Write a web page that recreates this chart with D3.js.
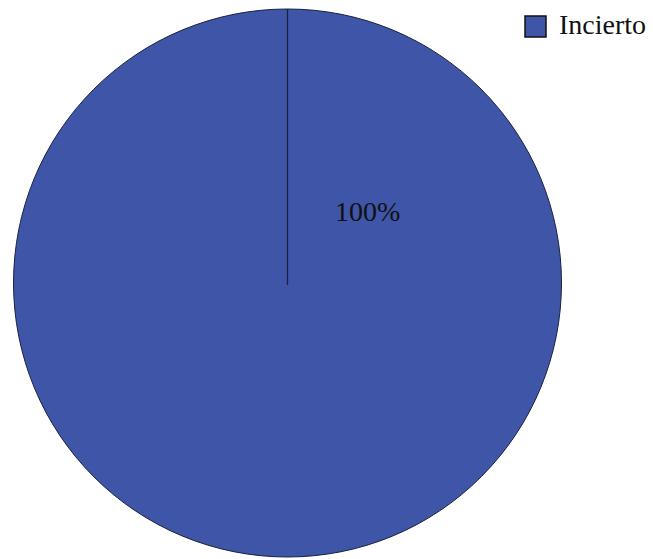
<!DOCTYPE html>
<html><head><meta charset="utf-8">
<script src="https://cdn.jsdelivr.net/npm/d3@7"></script>
<style>html,body{margin:0;padding:0;background:#fff;}</style>
</head><body>
<svg id="chart" width="653" height="559"></svg>
<script>
const categories = ["Incierto"];
const values = [100];
const labels = ["100%"];
const colors = ["#3f55a8"];

const svg = d3.select("#chart");
const cx = 287.5, cy = 283, r = 274;
const g = svg.append("g").attr("transform", `translate(${cx},${cy})`);

const pie = d3.pie().sort(null).value(d => d);
const arcs = pie(values);
const arc = d3.arc().innerRadius(0).outerRadius(r);

g.selectAll("path.slice").data(arcs).enter().append("path")
  .attr("class", "slice")
  .attr("d", arc)
  .attr("fill", (d, i) => colors[i])
  .attr("stroke", "#1b2240")
  .attr("stroke-width", 1);

// radial edge line at start of slice
g.selectAll("line.edge").data(arcs).enter().append("line")
  .attr("class", "edge")
  .attr("x1", 0).attr("y1", 2)
  .attr("x2", d => r * Math.sin(d.startAngle))
  .attr("y2", d => -r * Math.cos(d.startAngle))
  .attr("stroke", "#1b2240").attr("stroke-width", 1.3);

// label
const labelAngle = 48 * Math.PI / 180, labelDist = 108;
g.selectAll("text.lbl").data(arcs).enter().append("text")
  .attr("class", "lbl")
  .attr("x", labelDist * Math.sin(labelAngle))
  .attr("y", -labelDist * Math.cos(labelAngle) + 10)
  .attr("text-anchor", "middle")
  .attr("font-family", "'Liberation Serif', 'Times New Roman', serif")
  .attr("font-size", 28)
  .attr("fill", "#111")
  .text((d, i) => labels[i]);

// legend
const leg = svg.append("g").attr("transform", "translate(525,16)");
leg.selectAll("rect").data(categories).enter().append("rect")
  .attr("x", 0).attr("y", (d, i) => i * 30)
  .attr("width", 21).attr("height", 21)
  .attr("fill", (d, i) => colors[i])
  .attr("stroke", "#111").attr("stroke-width", 1.5);
leg.selectAll("text").data(categories).enter().append("text")
  .attr("x", 34).attr("y", (d, i) => i * 30 + 18)
  .attr("font-family", "'Liberation Serif', 'Times New Roman', serif")
  .attr("font-size", 28)
  .attr("fill", "#111")
  .text(d => d);
</script>
</body></html>
